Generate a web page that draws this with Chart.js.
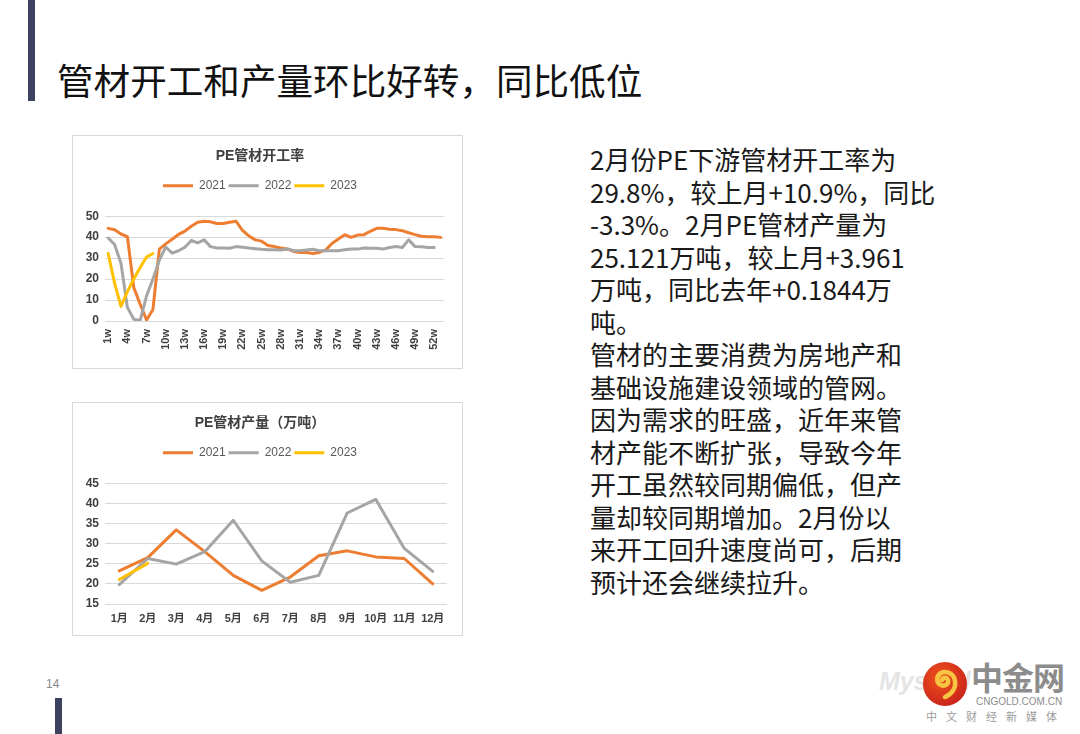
<!DOCTYPE html>
<html>
<head>
<meta charset="utf-8">
<script src="https://cdn.jsdelivr.net/npm/chart.js@4.4.1/dist/chart.umd.min.js"></script>
<style>
  html, body { margin: 0; padding: 0; background: #fff; }
  body { width: 1080px; height: 734px; position: relative; overflow: hidden;
         font-family: "Noto Sans CJK SC", "Noto Sans", sans-serif; }
  .bar-top { position: absolute; left: 28px; top: 0; width: 7px; height: 101px; background: #3d4260; }
  .bar-bottom { position: absolute; left: 55px; top: 698px; width: 7px; height: 36px; background: #3d4260; }
  .page-title { position: absolute; left: 57px; top: 56px; font-size: 36.6px; line-height: 48px; color: #111; white-space: nowrap; }
  .page-no { position: absolute; left: 46px; top: 677px; font-size: 12px; color: #8a8a8a; font-family: "Liberation Sans", sans-serif; }
  .chart-box { position: absolute; left: 72px; width: 391px; height: 234px; border: 1px solid #d9d9d9; box-sizing: border-box; }
  .chart-box canvas { display: block; }
  .desc { position: absolute; left: 590px; top: 143px; font-size: 26px; line-height: 32.5px; color: #1a1a1a; white-space: nowrap; }
  .logo-cn { position: absolute; left: 971px; top: 659px; font-size: 32px; line-height: 34px; font-weight: bold; color: #8c8c8c; letter-spacing: -1px; }
  .logo-url { position: absolute; left: 976px; top: 696px; font-size: 10px; line-height: 11px; color: #8c8c8c; font-family: "Liberation Sans", sans-serif; }
  .logo-sub { position: absolute; left: 926px; top: 709px; font-size: 11px; line-height: 14px; color: #9a9a9a; letter-spacing: 9px; white-space: nowrap; }
  .logo-wm { position: absolute; left: 879px; top: 667px; font-size: 25px; font-weight: bold; font-style: italic; color: #e4e4e4; font-family: "Liberation Sans", sans-serif; }
  .logo-mark { position: absolute; left: 922px; top: 661px; }
</style>
</head>
<body>
<div class="bar-top"></div>
<div class="page-title">管材开工和产量环比好转，同比低位</div>

<div class="chart-box" style="top:135px"><canvas id="rateChart" width="389" height="232"></canvas></div>
<div class="chart-box" style="top:402px"><canvas id="outputChart" width="389" height="232"></canvas></div>

<div class="desc">
  <div>2月份PE下游管材开工率为</div>
  <div>29.8%，较上月+10.9%，同比</div>
  <div>-3.3%。2月PE管材产量为</div>
  <div>25.121万吨，较上月+3.961</div>
  <div>万吨，同比去年+0.1844万</div>
  <div>吨。</div>
  <div>管材的主要消费为房地产和</div>
  <div>基础设施建设领域的管网。</div>
  <div>因为需求的旺盛，近年来管</div>
  <div>材产能不断扩张，导致今年</div>
  <div>开工虽然较同期偏低，但产</div>
  <div>量却较同期增加。2月份以</div>
  <div>来开工回升速度尚可，后期</div>
  <div>预计还会继续拉升。</div>
</div>

<div class="page-no">14</div>
<div class="bar-bottom"></div>

<div class="logo-wm">Mysteel</div>
<svg class="logo-mark" width="46" height="46" viewBox="0 0 46 46">
  <defs>
    <radialGradient id="lg" cx="40%" cy="35%" r="70%">
      <stop offset="0%" stop-color="#f0521e"/>
      <stop offset="100%" stop-color="#c8221a"/>
    </radialGradient>
  </defs>
  <circle cx="23" cy="23" r="22" fill="url(#lg)"/>
  <path d="M23 36 C30 33 34 27 33 20 C32 13 25 9 19 12 C14 15 14 22 19 24 C23 26 27 23 26 19 C25 16 21 16 20 19"
        fill="none" stroke="#f7c542" stroke-width="4.5" stroke-linecap="round"/>
</svg>
<div class="logo-cn">中金网</div>
<div class="logo-url">CNGOLD.COM.CN</div>
<div class="logo-sub">中文财经新媒体</div>

<script>
// --- data ---
const weekLabels = ['1w','2w','3w','4w','5w','6w','7w','8w','9w','10w','11w','12w','13w','14w','15w','16w','17w','18w','19w','20w',
  '21w','22w','23w','24w','25w','26w','27w','28w','29w','30w','31w','32w','33w','34w','35w','36w','37w','38w','39w','40w',
  '41w','42w','43w','44w','45w','46w','47w','48w','49w','50w','51w','52w','53w']

const rate2021 = [44.2, 43.5, 41.5, 40.3, 16, 8, 0.5, 5.5, 34.3, 36.8,
  39, 41.3, 42.9, 45.2, 47.1, 47.6, 47.3, 46.5, 46.5, 47.1,
  47.6, 43.2, 40.6, 38.7, 38.1, 36, 35.5, 34.8, 34.4, 33.2,
  32.7, 32.7, 32.2, 32.7, 33.8, 37, 39.1, 41.2, 39.9, 41,
  41.2, 42.8, 44.2, 44.2, 43.8, 43.6, 43.1, 42.1, 41.2, 40.4,
  40.2, 40.2, 39.9]
const rate2022 = [39.6, 36.5, 27.5, 6.5, 0.8, 0.3, 12, 20, 29, 35.3,
  32.4, 33.5, 35.2, 38.4, 37.3, 38.7, 35.5, 34.8, 34.8, 34.7,
  35.5, 35.2, 34.8, 34.5, 34.2, 34, 34, 33.9, 34.4, 33.5,
  33.5, 33.9, 34.2, 33.5, 33.5, 33.5, 33.5, 34, 34.3, 34.3,
  34.8, 34.7, 34.7, 34.3, 35.1, 35.5, 35.1, 38.7, 35.5, 35.4,
  35.1, 35.1]
const rate2023 = [32.2, 18, 7, 14, 20, 25.5, 30.5, 32.2]

const monthLabels = ['1月','2月','3月','4月','5月','6月','7月','8月','9月','10月','11月','12月']
const output2021 = [23.2, 26.5, 33.4, 28, 22.1, 18.4, 21.7, 27, 28.2, 26.7, 26.3, 20]
const output2022 = [19.8, 26.3, 24.9, 28, 35.8, 25.7, 20.4, 22.1, 37.6, 41, 28.8, 23.1]
const output2023 = [21.1, 25.1]

const seriesNames = ['2021', '2022', '2023']
const seriesColors = ['#ed7d31', '#a5a5a5', '#ffc000']

const latin = '"Liberation Sans", "Noto Sans CJK SC", sans-serif'

function makeDatasets(values){
  return values.map((data, i) => ({
    label: seriesNames[i],
    data: data,
    borderColor: seriesColors[i],
    backgroundColor: seriesColors[i],
    borderWidth: 3,
    pointRadius: 0,
    tension: 0,
    borderJoinStyle: 'round',
    borderCapStyle: 'round',
    order: 3 - i
  }))
}

function makeOptions(title, yMin, yMax, yStep, xHeight, xRotate, everyNth){
  return {
    responsive: false,
    animation: false,
    layout: { padding: { left: 0, right: 15, top: 0, bottom: 0 } },
    plugins: {
      title: {
        display: true, text: title, color: '#404040',
        font: { family: latin, size: 14, weight: 'bold' },
        padding: { top: 12, bottom: 12 }
      },
      legend: {
        display: true,
        labels: {
          usePointStyle: true, pointStyle: 'line', pointStyleWidth: 30,
          color: '#595959', padding: 3,
          font: { family: latin, size: 12 },
          sort: (a, b) => a.datasetIndex - b.datasetIndex
        }
      },
      // empty subtitle used as a spacer between legend and plot
      subtitle: { display: true, text: ' ', weight: 500, padding: 0, font: { size: 12 } },
      tooltip: { enabled: false }
    },
    scales: {
      x: {
        offset: true,
        grid: { display: false, drawTicks: false },
        border: { display: false },
        ticks: {
          autoSkip: false,
          maxRotation: xRotate, minRotation: xRotate,
          padding: 8,
          color: '#404040',
          font: { family: latin, size: 11, weight: 'bold' },
          callback: function(value, index){
            return index % everyNth === 0 ? this.getLabelForValue(value) : ''
          }
        },
        afterFit: scale => { scale.height = xHeight }
      },
      y: {
        min: yMin, max: yMax,
        grid: { color: '#d9d9d9', lineWidth: 1, drawTicks: false },
        border: { display: false },
        ticks: {
          stepSize: yStep, padding: 6, color: '#404040',
          font: { family: latin, size: 12, weight: 'bold' }
        },
        afterFit: scale => { scale.width = 32 }
      }
    }
  }
}

new Chart(document.getElementById('rateChart'), {
  type: 'line',
  data: { labels: weekLabels, datasets: makeDatasets([rate2021, rate2022, rate2023]) },
  options: makeOptions('PE管材开工率', 0, 50, 10, 47, 90, 3)
})

new Chart(document.getElementById('outputChart'), {
  type: 'line',
  data: { labels: monthLabels, datasets: makeDatasets([output2021, output2022, output2023]) },
  options: makeOptions('PE管材产量（万吨）', 15, 45, 5, 31, 0, 1)
})
</script>
</body>
</html>
